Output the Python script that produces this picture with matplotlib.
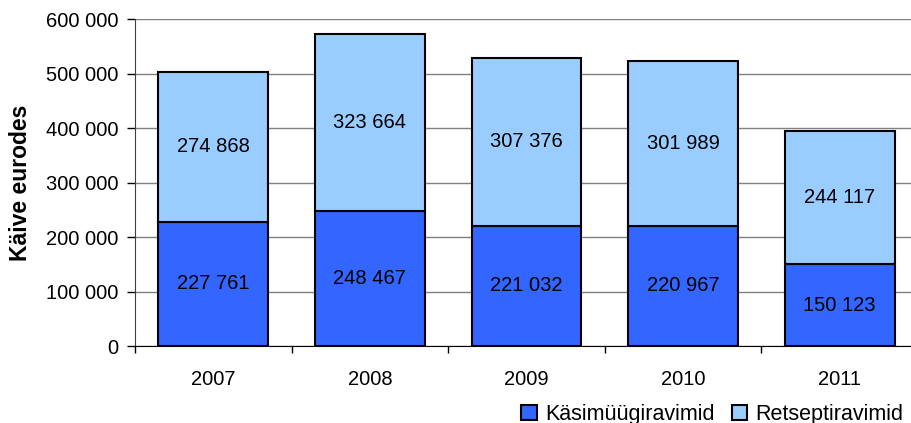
import matplotlib
matplotlib.use("Agg")
from matplotlib import pyplot as plt
from matplotlib.ticker import FuncFormatter
import numpy as np

plt.rcParams['font.family'] = ['Liberation Sans', 'DejaVu Sans']

years = ['2007', '2008', '2009', '2010', '2011']
kasimuugi = [227761, 248467, 221032, 220967, 150123]
retsepti = [274868, 323664, 307376, 301989, 244117]
series_names = ['Käsimüügiravimid', 'Retseptiravimid']
col_dark = '#3366FF'
col_light = '#99CCFF'

def fmt(v):
    return '{:,}'.format(int(v)).replace(',', ' ')

fig = plt.figure(figsize=(9.12, 4.23), dpi=100)
ax = fig.add_axes([0.148, 0.182, 0.8586, 0.773])

x = np.arange(len(years))
w = 0.70
b1 = ax.bar(x, kasimuugi, w, color=col_dark, edgecolor='black', linewidth=1.5,
            label=series_names[0], zorder=3)
b2 = ax.bar(x, retsepti, w, bottom=kasimuugi, color=col_light, edgecolor='black',
            linewidth=1.5, label=series_names[1], zorder=3)

## value labels in the middle of each segment
for i in range(len(years)):
    ax.text(x[i], kasimuugi[i] / 2, fmt(kasimuugi[i]), ha='center', va='center',
            fontsize=14.5, zorder=4)
    ax.text(x[i], kasimuugi[i] + retsepti[i] / 2, fmt(retsepti[i]), ha='center',
            va='center', fontsize=14.5, zorder=4)

ax.set_xlim(-0.5, len(years) - 0.5)
ax.set_ylim(0, 600000)
ax.set_yticks(np.arange(0, 600001, 100000))
ax.yaxis.set_major_formatter(FuncFormatter(lambda v, p: fmt(v)))
ax.yaxis.grid(True, color='#808080', linewidth=1, zorder=0)

ax.set_xticks(x)
ax.set_xticklabels(years)
ax.set_xticks(np.arange(-0.5, len(years), 1.0), minor=True)
ax.tick_params(axis='x', which='major', length=0, pad=17, labelsize=14.5)
ax.tick_params(axis='x', which='minor', length=5, width=1, direction='out')
ax.tick_params(axis='y', length=6, width=1, direction='out', pad=6, labelsize=14.5)

for s in ['top', 'right']:
    ax.spines[s].set_visible(False)
ax.spines['left'].set_color('#404040')
ax.spines['bottom'].set_color('black')

ax.set_ylabel('Käive eurodes', fontsize=16.5, fontweight='bold', labelpad=10)

fig.legend(handles=[b1, b2], labels=series_names, loc='lower right',
           bbox_to_anchor=(1.012, -0.05), ncol=2, frameon=False, fontsize=15.5,
           handlelength=0.7, handleheight=0.7, handletextpad=0.4, columnspacing=0.8)

fig.savefig('out.png', dpi=100)
